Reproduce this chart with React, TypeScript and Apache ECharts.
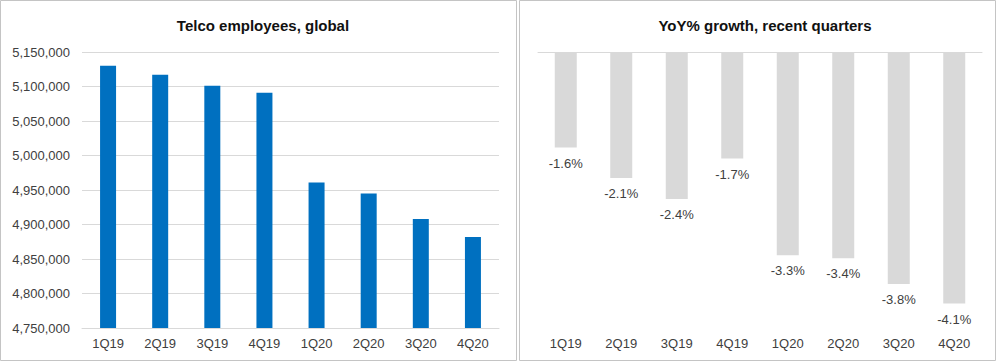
import React, { useEffect, useRef } from "react";
import * as echarts from "echarts";

const quarters = ["1Q19", "2Q19", "3Q19", "4Q19", "1Q20", "2Q20", "3Q20", "4Q20"];
const employees = [5130000, 5117000, 5101000, 5091000, 4961000, 4945000, 4908000, 4882000];
const yoyGrowth = [-1.56, -2.06, -2.4, -1.74, -3.32, -3.37, -3.79, -4.11];
const leftTitle = "Telco employees, global";
const rightTitle = "YoY% growth, recent quarters";

const FONT = "Arial, 'Liberation Sans', sans-serif";
const TXT = "#404040";

export default function App() {
  const ref = useRef<HTMLDivElement>(null);
  useEffect(() => {
    document.body.style.margin = "0";
    const chart = echarts.init(ref.current!, null, { renderer: "svg" });
    chart.setOption({
      animation: false,
      backgroundColor: "#ffffff",
      textStyle: { fontFamily: FONT },
      title: [
        {
          text: leftTitle,
          left: 258,
          top: 13,
          textAlign: "center",
          textStyle: { fontFamily: FONT, fontSize: 15, fontWeight: "bold", color: "#111" },
        },
        {
          text: rightTitle,
          left: 760,
          top: 13,
          textAlign: "center",
          textStyle: { fontFamily: FONT, fontSize: 15, fontWeight: "bold", color: "#111" },
        },
      ],
      graphic: [
        {
          type: "rect",
          shape: { x: 0.5, y: 0.5, width: 516, height: 360 },
          style: { fill: "none", stroke: "#c4c4c4", lineWidth: 1 },
          z: 100,
        },
        {
          type: "rect",
          shape: { x: 519.5, y: 0.5, width: 476, height: 360 },
          style: { fill: "none", stroke: "#c4c4c4", lineWidth: 1 },
          z: 100,
        },
      ],
      grid: [
        { left: 82, right: 501, top: 52, bottom: 34 },
        { left: 538, right: 18, top: 52, bottom: 34.5 },
      ],
      xAxis: [
        {
          type: "category",
          gridIndex: 0,
          data: quarters,
          axisLine: { lineStyle: { color: "#d9d9d9" } },
          axisTick: { show: false },
          axisLabel: { color: TXT, fontSize: 13, fontFamily: FONT, margin: 9 },
        },
        {
          type: "category",
          gridIndex: 1,
          data: quarters,
          position: "bottom",
          axisLine: { show: false },
          axisTick: { show: false },
          axisLabel: { color: TXT, fontSize: 13, fontFamily: FONT, margin: 9 },
        },
        {
          type: "category",
          gridIndex: 1,
          data: quarters,
          position: "top",
          axisLine: { show: true, onZero: false, lineStyle: { color: "#d9d9d9" } },
          axisTick: { show: false },
          axisLabel: { show: false },
        },
      ],
      yAxis: [
        {
          type: "value",
          gridIndex: 0,
          min: 4750000,
          max: 5150000,
          interval: 50000,
          axisLine: { show: false },
          axisTick: { show: false },
          splitLine: { lineStyle: { color: "#d9d9d9" } },
          axisLabel: {
            color: TXT,
            fontSize: 13,
            fontFamily: FONT,
            margin: 12,
            formatter: (v: number) => v.toLocaleString("en-US"),
          },
        },
        {
          type: "value",
          gridIndex: 1,
          min: -4.5,
          max: 0,
          axisLine: { show: false },
          axisTick: { show: false },
          splitLine: { show: false },
          axisLabel: { show: false },
        },
      ],
      series: [
        {
          type: "bar",
          xAxisIndex: 0,
          yAxisIndex: 0,
          data: employees,
          barWidth: 16,
          itemStyle: { color: "#0070c0" },
        },
        {
          type: "bar",
          xAxisIndex: 1,
          yAxisIndex: 1,
          data: yoyGrowth,
          barWidth: 22,
          itemStyle: { color: "#d9d9d9" },
          label: {
            show: true,
            position: "bottom",
            distance: 9,
            color: TXT,
            fontSize: 13,
            fontFamily: FONT,
            formatter: (p: any) => p.value.toFixed(1) + "%",
          },
        },
      ],
    });
    return () => chart.dispose();
  }, []);
  return (
    <div
      ref={ref}
      style={{ position: "absolute", left: 0, top: 0, width: 1000, height: 362 }}
    />
  );
}
